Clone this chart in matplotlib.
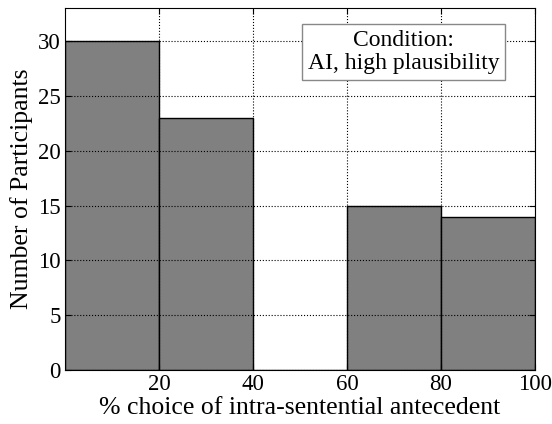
import matplotlib
matplotlib.use("Agg")
import matplotlib.pyplot as plt

# histogram bins and counts
bin_edges = [0, 20, 40, 60, 80, 100]
counts = [30, 23, 0, 15, 14]
xticks = [20, 40, 60, 80, 100]
yticks = [0, 5, 10, 15, 20, 25, 30]

plt.rcParams['font.family'] = ['Liberation Serif', 'DejaVu Serif']

fig = plt.figure(figsize=(5.52, 4.24), dpi=100)
ax = fig.add_axes([0.118, 0.127, 0.851, 0.854])

lefts = bin_edges[:-1]
widths = [b - a for a, b in zip(bin_edges[:-1], bin_edges[1:])]
ax.bar(lefts, counts, width=widths, align='edge', color='#808080',
       edgecolor='black', linewidth=1.0, zorder=1)

ax.set_xlim(0, 100)
ax.set_ylim(0, 33)
ax.set_xticks(xticks)
ax.set_yticks(yticks)
ax.tick_params(direction='in', labelsize=16.5, top=True, right=True, length=4, pad=3)
ax.grid(True, linestyle=':', color='black', linewidth=0.8, zorder=3)
ax.set_axisbelow(False)

ax.set_xlabel('% choice of intra-sentential antecedent', fontsize=18.5, labelpad=1)
ax.set_ylabel('Number of Participants', fontsize=18.5, labelpad=4)

ax.text(0.72, 0.878, 'Condition:\nAI, high plausibility', transform=ax.transAxes,
        ha='center', va='center', fontsize=17, linespacing=1.15,
        bbox=dict(boxstyle='square,pad=0.25', facecolor='white', edgecolor='#888888'),
        zorder=5)

fig.savefig('out.png', dpi=100)
